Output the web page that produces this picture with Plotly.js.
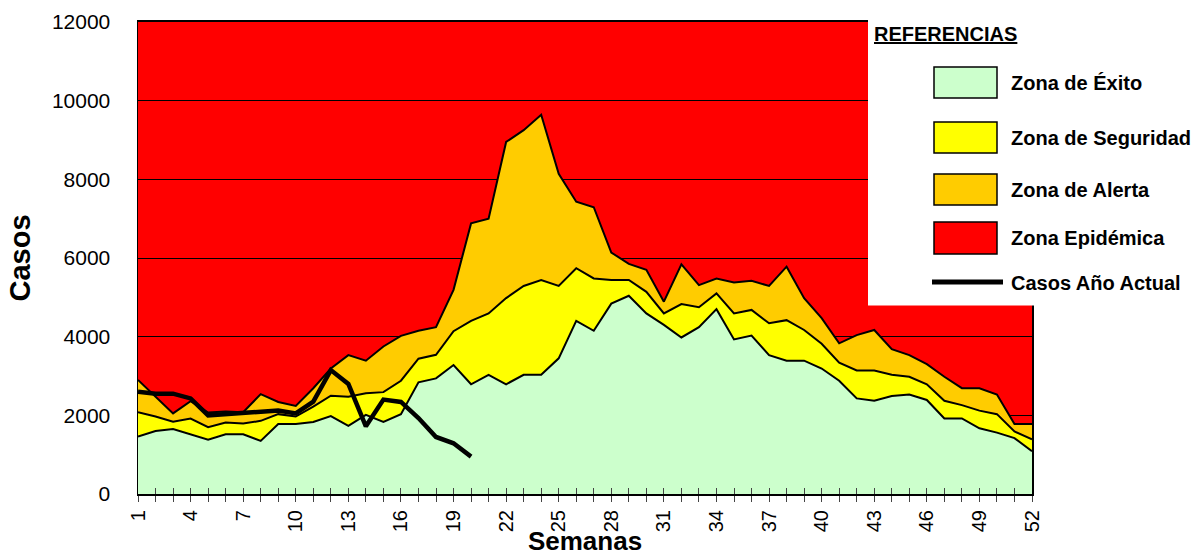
<!DOCTYPE html>
<html>
<head>
<meta charset="utf-8">
<script src="https://cdn.plot.ly/plotly-3.0.1.min.js"></script>
<style>html,body{margin:0;padding:0;background:#fff;}#chart{width:1195px;height:556px;}</style>
</head>
<body>
<div id="chart"></div>
<script>
// ---- data ----
const semanas = [1,2,3,4,5,6,7,8,9,10,11,12,13,14,15,16,17,18,19,20,21,22,23,24,25,26,27,28,29,30,31,32,33,34,35,36,37,38,39,40,41,42,43,44,45,46,47,48,49,50,51,52];
const etiquetasSemana = ['1','','','4','','','7','','','10','','','13','','','16','','','19','','','22','','','25','','','28','','','31','','','34','','','37','','','40','','','43','','','46','','','49','','','52'];
// upper limit of each zone (cases)
const zonaExito = [1460,1600,1650,1520,1380,1520,1520,1350,1780,1780,1830,1980,1730,2010,1830,2030,2840,2940,3280,2790,3030,2790,3030,3030,3450,4400,4150,4840,5040,4590,4300,3980,4240,4700,3930,4030,3530,3390,3390,3190,2880,2430,2370,2490,2530,2390,1920,1920,1670,1560,1420,1090];
const zonaSeguridad = [2080,1970,1840,1920,1700,1820,1790,1860,2030,1970,2220,2500,2470,2560,2590,2880,3440,3540,4140,4400,4590,4980,5290,5440,5290,5740,5480,5440,5440,5140,4590,4830,4750,5100,4590,4680,4340,4420,4170,3820,3340,3140,3140,3030,2980,2790,2370,2260,2120,2030,1590,1390];
const zonaAlerta = [2900,2480,2050,2360,2070,2100,2080,2540,2340,2240,2690,3190,3530,3390,3750,4020,4150,4240,5190,6880,7000,8950,9250,9640,8140,7430,7290,6140,5850,5700,4890,5840,5310,5480,5380,5420,5290,5780,4980,4470,3830,4040,4170,3680,3530,3300,2980,2690,2690,2530,1780,1780];
const casosActual = [2600,2550,2550,2430,2000,2030,2050,2080,2120,2050,2350,3150,2800,1720,2400,2340,1930,1450,1290,950];

const FONT = 'Liberation Sans, Arial, sans-serif';
const colExito = '#CCFFCC', colSeg = '#FFFF00', colAlerta = '#FFCC00', colEpi = '#FF0000';

const traces = [
  {x: semanas, y: zonaExito, name: 'Zona de Éxito', type: 'scatter', mode: 'lines',
   fill: 'tozeroy', fillcolor: colExito, line: {color: '#000', width: 2}},
  {x: semanas, y: zonaSeguridad, name: 'Zona de Seguridad', type: 'scatter', mode: 'lines',
   fill: 'tonexty', fillcolor: colSeg, line: {color: '#000', width: 2}},
  {x: semanas, y: zonaAlerta, name: 'Zona de Alerta', type: 'scatter', mode: 'lines',
   fill: 'tonexty', fillcolor: colAlerta, line: {color: '#000', width: 2}},
  {x: semanas.slice(0, casosActual.length), y: casosActual, name: 'Casos Año Actual', type: 'scatter',
   mode: 'lines', line: {color: '#000', width: 4.5}}
];

// pixel -> paper helpers for the custom legend box
const L = 138, R = 1032, T = 22, B = 494;
const px = v => (v - L) / (R - L);
const py = v => (B - v) / (B - T);

const shapes = [
  {type: 'rect', xref: 'paper', yref: 'paper', x0: px(868), x1: px(1200), y0: py(305.5), y1: py(-2),
   fillcolor: '#fff', line: {width: 0}, layer: 'above'},
];
const legendItems = [
  {text: 'Zona de Éxito', color: colExito, y0: 67, y1: 98},
  {text: 'Zona de Seguridad', color: colSeg, y0: 122, y1: 153},
  {text: 'Zona de Alerta', color: colAlerta, y0: 174, y1: 205},
  {text: 'Zona Epidémica', color: colEpi, y0: 222, y1: 254}
];
const annotations = [
  {xref: 'paper', yref: 'paper', x: px(872), y: py(34), xanchor: 'left', yanchor: 'middle',
   text: '<b><u>REFERENCIAS</u></b>', showarrow: false, font: {family: FONT, size: 20, color: '#000'}}
];
legendItems.forEach(it => {
  shapes.push({type: 'rect', xref: 'paper', yref: 'paper', x0: px(934), x1: px(997), y0: py(it.y1), y1: py(it.y0),
    fillcolor: it.color, line: {color: '#000', width: 1.5}, layer: 'above'});
  annotations.push({xref: 'paper', yref: 'paper', x: px(1009), y: py((it.y0 + it.y1) / 2), xanchor: 'left', yanchor: 'middle',
    text: '<b>' + it.text + '</b>', showarrow: false, font: {family: FONT, size: 20, color: '#000'}});
});
shapes.push({type: 'line', xref: 'paper', yref: 'paper', x0: px(932), x1: px(1003), y0: py(282), y1: py(282),
  line: {color: '#000', width: 5}, layer: 'above'});
annotations.push({xref: 'paper', yref: 'paper', x: px(1009), y: py(283), xanchor: 'left', yanchor: 'middle',
  text: '<b>Casos Año Actual</b>', showarrow: false, font: {family: FONT, size: 20, color: '#000'}});

const layout = {
  width: 1195, height: 556,
  margin: {l: L, r: 1195 - R, t: T, b: 556 - B},
  paper_bgcolor: '#fff',
  plot_bgcolor: colEpi,
  showlegend: false,
  font: {family: FONT, color: '#000'},
  xaxis: {
    range: [1, 52], tickmode: 'array', tickvals: semanas, ticktext: etiquetasSemana,
    tickangle: -90, ticks: 'outside', ticklen: 6, tickcolor: '#444', tickwidth: 1,
    tickfont: {family: FONT, size: 20}, showgrid: false, zeroline: false,
    showline: true, linecolor: '#000', linewidth: 2, mirror: true,
    title: {text: '<b>Semanas</b>', font: {family: FONT, size: 26}, standoff: 6}
  },
  xaxis2: {
    range: [1, 52], overlaying: 'x', anchor: 'y', side: 'bottom', tickmode: 'array', tickvals: semanas,
    showticklabels: false, ticks: 'inside', ticklen: 6, tickcolor: '#444', tickwidth: 1,
    showgrid: false, zeroline: false, showline: false
  },
  yaxis: {
    range: [0, 12000], dtick: 2000, tickformat: 'd', ticks: '', ticklabelstandoff: 22,
    tickfont: {family: FONT, size: 21}, showgrid: true, gridcolor: '#000', gridwidth: 1,
    zeroline: false, showline: true, linecolor: '#000', linewidth: 1.5, mirror: true,
    title: {text: '<b>Casos</b>', font: {family: FONT, size: 29}, standoff: 12}
  },
  shapes: shapes,
  annotations: annotations
};

traces.push({x: [1], y: [0], xaxis: 'x2', yaxis: 'y', mode: 'markers', marker: {opacity: 0}, hoverinfo: 'skip', showlegend: false});

Plotly.newPlot('chart', traces, layout, {displayModeBar: false, staticPlot: true});
</script>
</body>
</html>
